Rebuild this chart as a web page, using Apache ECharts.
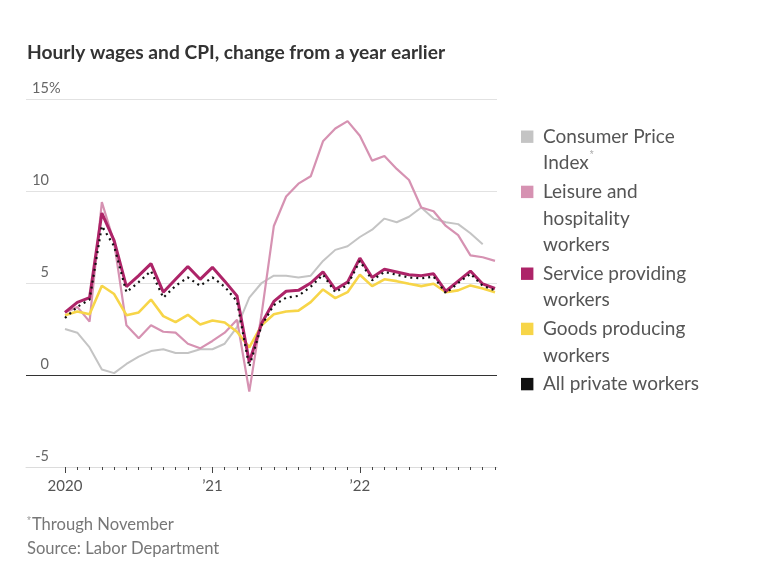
<!DOCTYPE html>
<html><head><meta charset="utf-8">
<script src="https://cdn.jsdelivr.net/npm/echarts@6/dist/echarts.min.js"></script>
<style>html,body{margin:0;padding:0;background:#fff}#c{width:768px;height:579px}</style>
</head><body><div id="c"></div>
<script>
// ---- Data ----
const months = [
  '2020-01','2020-02','2020-03','2020-04','2020-05','2020-06','2020-07','2020-08','2020-09','2020-10','2020-11','2020-12',
  '2021-01','2021-02','2021-03','2021-04','2021-05','2021-06','2021-07','2021-08','2021-09','2021-10','2021-11','2021-12',
  '2022-01','2022-02','2022-03','2022-04','2022-05','2022-06','2022-07','2022-08','2022-09','2022-10','2022-11','2022-12'
];
const yearLabels = ['2020', '\u201921', '\u201922'];
const yTickLabels = ['-5', '0', '5', '10', '15'];

const cpi = [
  2.5, 2.3, 1.5, 0.3, 0.1, 0.6, 1.0, 1.3, 1.4, 1.2, 1.2, 1.4,
  1.4, 1.7, 2.6, 4.2, 5.0, 5.4, 5.4, 5.3, 5.4, 6.2, 6.8, 7.0,
  7.5, 7.9, 8.5, 8.3, 8.6, 9.1, 8.5, 8.3, 8.2, 7.7, 7.1, null
];
const leisure = [
  3.4, 3.7, 2.9, 9.4, 7.2, 2.7, 2.0, 2.7, 2.35, 2.3, 1.7, 1.45,
  1.85, 2.3, 3.0, -0.9, 3.3, 8.1, 9.7, 10.4, 10.8, 12.7, 13.4, 13.8,
  13.0, 11.65, 11.9, 11.2, 10.6, 9.1, 8.9, 8.1, 7.6, 6.5, 6.4, 6.2
];
const service = [
  3.4, 3.95, 4.2, 8.8, 7.3, 4.8, 5.4, 6.05, 4.5, 5.2, 5.9, 5.2,
  5.85, 5.1, 4.3, 0.7, 2.8, 4.0, 4.55, 4.6, 5.0, 5.6, 4.65, 5.05,
  6.35, 5.3, 5.75, 5.6, 5.45, 5.4, 5.5, 4.55, 5.1, 5.65, 4.95, 4.7
];
const goods = [
  3.25, 3.45, 3.3, 4.85, 4.4, 3.25, 3.4, 4.1, 3.2, 2.87, 3.27, 2.74,
  2.96, 2.85, 2.35, 1.5, 2.7, 3.3, 3.45, 3.5, 3.96, 4.65, 4.18, 4.5,
  5.45, 4.83, 5.2, 5.1, 4.96, 4.83, 4.96, 4.5, 4.6, 4.87, 4.7, 4.5
];
const allPrivate = [
  3.1, 3.7, 4.1, 8.1, 7.0, 4.5, 5.05, 5.65, 4.2, 4.85, 5.3, 4.85,
  5.3, 4.8, 4.0, 0.45, 2.7, 3.8, 4.2, 4.3, 4.8, 5.45, 4.5, 4.9,
  6.2, 5.15, 5.6, 5.45, 5.3, 5.25, 5.35, 4.45, 5.0, 5.5, 4.85, 4.6
];
const legendLabels = [
  'Consumer Price\nIndex{sup|*}',
  'Leisure and\nhospitality\nworkers',
  'Service providing\nworkers',
  'Goods producing\nworkers',
  'All private workers'
];
const legendColors = ['#c4c4c4', '#d692b2', '#ad2468', '#f7d548', '#111111'];

// ---- Chart ----
const FONT = 'Lato, "Noto Sans", sans-serif';
const chart = echarts.init(document.getElementById('c'), null, {renderer: 'canvas'});
const TOP = 99, BOTTOM = 579 - 467;

const legendGraphics = [];
let yc = 136.7;
const LH = 26.6;
legendLabels.forEach((lab, i) => {
  legendGraphics.push({
    type: 'rect', shape: {x: 521, y: yc - 6.2, width: 12.4, height: 12.4},
    style: {fill: legendColors[i]}
  });
  legendGraphics.push({
    type: 'text', x: 543, y: yc - LH / 2,
    style: {
      text: lab, font: '19px ' + FONT, fill: '#555', lineHeight: LH,
      verticalAlign: 'top',
      rich: {sup: {fontSize: 10, fill: '#aaa', verticalAlign: 'top', lineHeight: 18, padding: [0, 0, 0, 1]}}
    }
  });
  yc += lab.split('\n').length * LH + 2;
});

const option = {
  animation: false,
  backgroundColor: '#fff',
  title: {
    text: 'Hourly wages and CPI, change from a year earlier',
    left: 22, top: 38,
    textStyle: {fontFamily: FONT, fontWeight: 'bold', fontSize: 19.2, color: '#333'}
  },
  grid: [
    {left: 26, right: 271, top: TOP, bottom: BOTTOM},
    {left: 65, right: 273, top: TOP, bottom: BOTTOM}
  ],
  xAxis: [
    {gridIndex: 0, type: 'value', min: 0, max: 1, position: 'bottom',
      axisLine: {show: true, onZero: false, lineStyle: {color: '#dcdcdc', width: 1}},
      axisTick: {show: false}, axisLabel: {show: false}, splitLine: {show: false}},
    {gridIndex: 1, type: 'category', data: months, boundaryGap: false, position: 'bottom',
      axisLine: {show: false, onZero: false},
      axisTick: {show: true, interval: 0, length: 3, lineStyle: {color: '#444', width: 1}},
      axisLabel: {show: false}},
    {gridIndex: 1, type: 'category', data: months, boundaryGap: false, position: 'bottom',
      axisLine: {show: false, onZero: false},
      axisTick: {show: true, interval: (i) => i % 12 === 0, length: 6, lineStyle: {color: '#444', width: 1}},
      axisLabel: {interval: (i) => i % 12 === 0, formatter: (v, i) => yearLabels[Math.floor(i / 12)],
        margin: 12, fontSize: 15, color: '#555', fontFamily: FONT}}
  ],
  yAxis: [
    {gridIndex: 0, type: 'value', min: -5, max: 15, interval: 5,
      axisLine: {show: false}, axisTick: {show: false},
      splitLine: {showMinLine: true, showMaxLine: true,
        lineStyle: {color: ['#dcdcdc', '#333', '#e2e2e2', '#e2e2e2', '#e2e2e2'], width: 1}},
      axisLabel: {
        inside: true, margin: 6, align: 'left', verticalAlign: 'bottom',
        formatter: (v) => {
          const idx = Math.round((v + 5) / 5);
          return '{n|' + yTickLabels[idx] + '}' + (idx === yTickLabels.length - 1 ? '{p|%}' : '');
        },
        rich: {
          n: {width: 17, align: 'right', fontSize: 14.5, color: '#666', fontFamily: FONT, padding: [0, 0, 3, 0]},
          p: {fontSize: 14.5, color: '#666', fontFamily: FONT, padding: [0, 0, 3, 0]}
        }
      }},
    {gridIndex: 1, type: 'value', min: -5, max: 15, interval: 5, show: false}
  ],
  graphic: legendGraphics.concat([
    {type: 'text', x: 27, y: 516, style: {text: '{sup|*}Through November', font: '16.6px ' + FONT, fill: '#777',
      rich: {sup: {fontSize: 10, fill: '#999', verticalAlign: 'top', lineHeight: 16, padding: [0, 1, 0, 0]}}}},
    {type: 'text', x: 27, y: 540, style: {text: 'Source: Labor Department', font: '16.6px ' + FONT, fill: '#777'}}
  ]),
  series: [
    {name: 'Consumer Price Index', type: 'line', xAxisIndex: 1, yAxisIndex: 1, data: cpi, symbol: 'none',
      lineStyle: {color: legendColors[0], width: 2}, z: 2},
    {name: 'Leisure and hospitality workers', type: 'line', xAxisIndex: 1, yAxisIndex: 1, data: leisure, symbol: 'none',
      lineStyle: {color: legendColors[1], width: 2.2}, z: 3},
    {name: 'Goods producing workers', type: 'line', xAxisIndex: 1, yAxisIndex: 1, data: goods, symbol: 'none',
      lineStyle: {color: legendColors[3], width: 2.6}, z: 4},
    {name: 'Service providing workers', type: 'line', xAxisIndex: 1, yAxisIndex: 1, data: service, symbol: 'none',
      lineStyle: {color: legendColors[2], width: 3}, z: 5},
    {name: 'All private workers', type: 'line', xAxisIndex: 1, yAxisIndex: 1, data: allPrivate, symbol: 'none',
      lineStyle: {color: '#111', width: 2.2, type: [2, 4]}, z: 6}
  ]
};
chart.setOption(option);
</script></body></html>
